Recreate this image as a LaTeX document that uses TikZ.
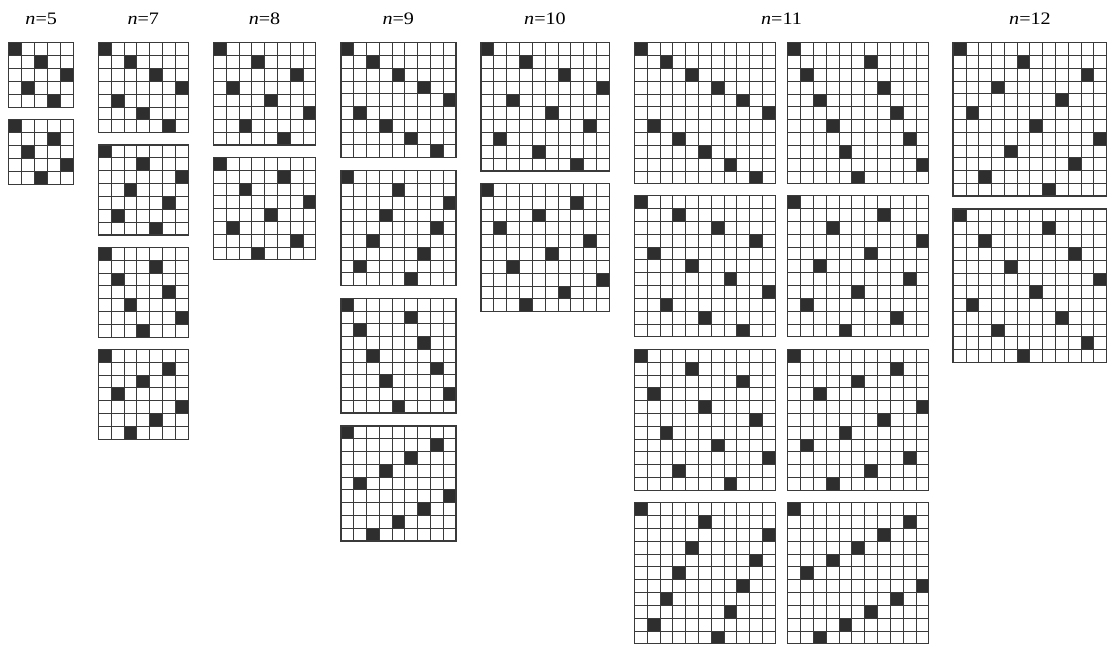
\documentclass[tikz,border=0pt]{standalone}
\usepackage{fontspec}
\setmainfont{Liberation Serif}
\newfontfamily\lblfont{Liberation Serif}[FakeStretch=1.15]
\definecolor{cellc}{HTML}{2E2E2E}
\definecolor{linec}{HTML}{3A3A3A}
\tikzset{
  lbl/.style={font=\lblfont\fontsize{17.5}{20}\selectfont, anchor=base, inner sep=0pt},
  innerline/.style={draw=linec, line width=0.8pt},
  outerline/.style={draw=linec, line width=1.5pt},
}
% #1 x, #2 y (top), #3 n, #4 multiplier k, #5 cell size
\newcommand{\pgrid}[5]{%
  \pgfmathtruncatemacro{\nm}{#3-1}%
  \foreach \i in {0,...,\nm}{%
    \pgfmathtruncatemacro{\colk}{mod(#4*\i,#3)}%
    \fill[cellc] ({#1+\colk*#5},{#2+\i*#5}) rectangle ++(#5,#5);
  }%
  \foreach \j in {1,...,\nm}{%
    \draw[innerline] ({#1+\j*#5},#2) -- ++(0,{#3*#5});
    \draw[innerline] (#1,{#2+\j*#5}) -- ++({#3*#5},0);
  }%
  \draw[outerline] (#1,#2) rectangle ++({#3*#5},{#3*#5});
}
\begin{document}
\begin{tikzpicture}[x=1pt,y=-1pt]
\fill[white] (0,0) rectangle (1107,646);
\useasboundingbox (0,0) rectangle (1107,646);
% labels
\node[lbl] (l5)  at (41.2,24.8)  {\textit{n}=5};
\node[lbl] (l7)  at (143.3,24.8) {\textit{n}=7};
\node[lbl] (l8)  at (264.5,24.8) {\textit{n}=8};
\node[lbl] (l9)  at (398.3,24.8) {\textit{n}=9};
\node[lbl] (l10) at (545,24.8)   {\textit{n}=10};
\node[lbl] (l11) at (781.5,24.8) {\textit{n}=11};
\node[lbl] (l12) at (1030,24.8)  {\textit{n}=12};
% n=5
\pgrid{8.5}{42.7}{5}{2}{13}
\pgrid{8.5}{119.3}{5}{3}{13}
% n=7
\pgrid{98.3}{42.7}{7}{2}{12.86}
\pgrid{98.3}{145}{7}{3}{12.86}
\pgrid{98.3}{247.3}{7}{4}{12.86}
\pgrid{98.3}{349.3}{7}{5}{12.86}
% n=8
\pgrid{213.3}{42.7}{8}{3}{12.8}
\pgrid{213.3}{157.3}{8}{5}{12.8}
% n=9
\pgrid{341}{42.7}{9}{2}{12.75}
\pgrid{341}{170.7}{9}{4}{12.75}
\pgrid{341}{298.3}{9}{5}{12.75}
\pgrid{341}{426}{9}{7}{12.75}
% n=10
\pgrid{481}{42.7}{10}{3}{12.83}
\pgrid{481}{183.3}{10}{7}{12.83}
% n=11
\pgrid{634.3}{42.7}{11}{2}{12.82}
\pgrid{787.7}{42.7}{11}{6}{12.82}
\pgrid{634.3}{195.7}{11}{3}{12.82}
\pgrid{787.7}{195.7}{11}{7}{12.82}
\pgrid{634.3}{349.3}{11}{4}{12.82}
\pgrid{787.7}{349.3}{11}{8}{12.82}
\pgrid{634.3}{502.7}{11}{5}{12.82}
\pgrid{787.7}{502.7}{11}{9}{12.82}
% n=12
\pgrid{953.2}{42.7}{12}{5}{12.78}
\pgrid{953.2}{209}{12}{7}{12.78}
\end{tikzpicture}
\end{document}
